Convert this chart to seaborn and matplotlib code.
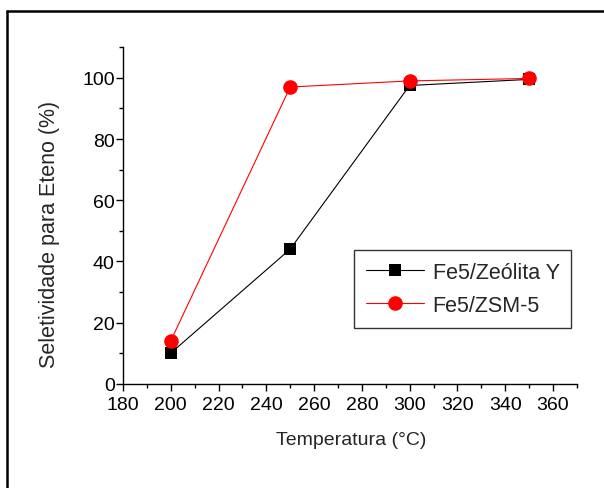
import matplotlib
matplotlib.use("Agg")
import matplotlib.pyplot as plt
from matplotlib.lines import Line2D
from matplotlib.ticker import MultipleLocator
import seaborn as sns
import pandas as pd

temperatura = [200, 250, 300, 350]
zeolita_y = [10, 44, 97.5, 99.5]
zsm5 = [14, 97, 99, 99.8]
series_names = ["Fe5/Zeólita Y", "Fe5/ZSM-5"]

sns.set_style("ticks")
plt.rcParams["font.family"] = ["Liberation Sans", "DejaVu Sans"]

df = pd.DataFrame({
    "Temperatura": temperatura * 2,
    "Seletividade": zeolita_y + zsm5,
    "Amostra": [series_names[0]] * 4 + [series_names[1]] * 4,
})

fig = plt.figure(figsize=(6.04, 4.89), dpi=100)
ax = fig.add_axes([0.2036, 0.2133, 0.7514, 0.688])

sns.lineplot(
    data=df, x="Temperatura", y="Seletividade", hue="Amostra", style="Amostra",
    palette={series_names[0]: "black", series_names[1]: "red"},
    markers={series_names[0]: "s", series_names[1]: "o"},
    dashes=False, linewidth=0.8, markersize=10.5, markeredgewidth=0,
    ax=ax, legend=True, sort=False,
)
for ln in ax.get_lines():
    if ln.get_marker() == "s":
        ln.set_markersize(9)

ax.set_xlim(180, 370)
ax.set_ylim(0, 110)
ax.xaxis.set_minor_locator(MultipleLocator(10))
ax.yaxis.set_minor_locator(MultipleLocator(10))
ax.set_xticks(range(180, 361, 20))
ax.set_yticks(range(0, 101, 20))

ax.tick_params(which="major", direction="out", length=5, width=1, labelsize=14, color="black", labelcolor="black")
ax.tick_params(axis="x", which="major", pad=4)
ax.tick_params(axis="y", which="major", pad=1)
ax.tick_params(which="minor", direction="out", length=3, width=1, color="black")
for side in ["left", "bottom"]:
    ax.spines[side].set_linewidth(1)
    ax.spines[side].set_color("black")
sns.despine(ax=ax)

ax.set_xlabel("Temperatura (°C)", fontsize=14)
ax.set_ylabel("Seletividade para Eteno (%)", fontsize=15.5)
ax.xaxis.set_label_coords(0.502, -0.142)
ax.yaxis.set_label_coords(-0.139, 0.448)

handles, labels = ax.get_legend_handles_labels()
leg = ax.legend(
    handles, labels, loc="upper left", bbox_to_anchor=(0.509, 0.397),
    frameon=True, fancybox=False, shadow=False, fontsize=15.5,
    handlelength=2.7, handletextpad=0.4, borderpad=0.55, labelspacing=0.55,
    borderaxespad=0,
)
leg.get_frame().set_edgecolor("black")
leg.get_frame().set_linewidth(1)

# open frame around the figure (top and left edges)
fig.add_artist(Line2D([0.0116, 1.0], [0.9755, 0.9755], transform=fig.transFigure, color="black", lw=1.8))
fig.add_artist(Line2D([0.0116, 0.0116], [0.0, 0.9755], transform=fig.transFigure, color="black", lw=1.8))

fig.savefig("out.png", dpi=100, facecolor="white")
